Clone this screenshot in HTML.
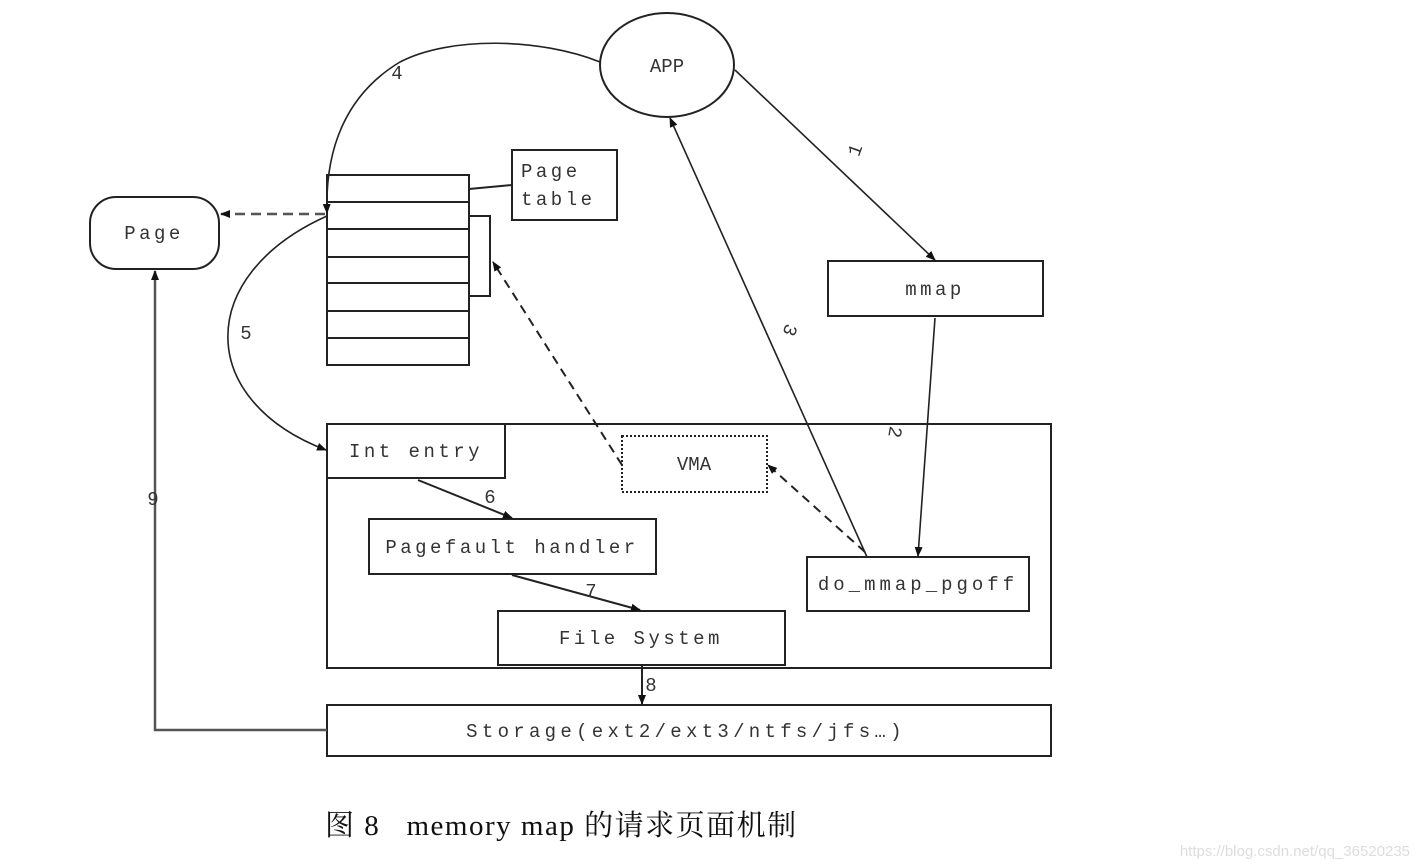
<!DOCTYPE html>
<html><head><meta charset="utf-8"><style>
html,body{margin:0;padding:0;background:#fff;}
svg{display:block;}
text{font-family:"Liberation Mono","Noto Serif CJK SC",monospace;fill:#333;font-size:19px;}
.l{letter-spacing:3.5px;}
</style></head><body>
<svg width="1418" height="868" viewBox="0 0 1418 868" xmlns="http://www.w3.org/2000/svg">
<defs>
<marker id="a" markerWidth="10" markerHeight="8" refX="9" refY="4" orient="auto" markerUnits="userSpaceOnUse">
<path d="M0,0 L10,4 L0,8 z" fill="#111"/></marker>
</defs>
<g stroke="#222" stroke-width="2" fill="none">
<ellipse cx="667" cy="65" rx="67" ry="52"/>
<rect x="90" y="197" width="129" height="72" rx="26"/>
<rect x="327" y="175" width="142" height="190"/>
<line x1="327" y1="202" x2="469" y2="202"/>
<line x1="327" y1="229" x2="469" y2="229"/>
<line x1="327" y1="257" x2="469" y2="257"/>
<line x1="327" y1="283" x2="469" y2="283"/>
<line x1="327" y1="311" x2="469" y2="311"/>
<line x1="327" y1="338" x2="469" y2="338"/>
<polyline points="469,216 490,216 490,296 469,296"/>
<rect x="512" y="150" width="105" height="70"/>
<line x1="469" y1="189" x2="512" y2="185"/>
<rect x="828" y="261" width="215" height="55"/>
<rect x="327" y="424" width="724" height="244"/>
<rect x="327" y="424" width="178" height="54"/>
<rect x="369" y="519" width="287" height="55"/>
<rect x="807" y="557" width="222" height="54"/>
<rect x="498" y="611" width="287" height="54"/>
<rect x="622" y="436" width="145" height="56" stroke-dasharray="2,2"/>
<rect x="327" y="705" width="724" height="51"/>
</g>
<g stroke="#222" stroke-width="1.6" fill="none">
<line x1="735" y1="70" x2="935" y2="260" marker-end="url(#a)"/>
<line x1="935" y1="318" x2="918" y2="556" marker-end="url(#a)"/>
<line x1="867" y1="557" x2="670" y2="118" marker-end="url(#a)"/>
<path d="M600,62 C540,38 450,36 400,62 C345,95 325,150 327,213" marker-end="url(#a)"/>
<path d="M327,216 C195,275 195,400 326,450" marker-end="url(#a)"/>
<line x1="418" y1="480" x2="512" y2="518" marker-end="url(#a)" stroke-width="2"/>
<line x1="512" y1="575" x2="640" y2="610" marker-end="url(#a)" stroke-width="2"/>
<line x1="642" y1="666" x2="642" y2="704" marker-end="url(#a)" stroke-width="2"/>
<polyline points="327,730 155,730 155,271" marker-end="url(#a)" stroke="#555" stroke-width="2.5"/>
<line x1="325" y1="214" x2="221" y2="214" marker-end="url(#a)" stroke-dasharray="10,6" stroke-width="2.5" stroke="#555"/>
<line x1="622" y1="465" x2="493" y2="262" marker-end="url(#a)" stroke-dasharray="9,6" stroke-width="2"/>
<line x1="865" y1="552" x2="768" y2="465" marker-end="url(#a)" stroke-dasharray="9,6" stroke-width="2"/>
</g>
<text x="667" y="72" text-anchor="middle">APP</text>
<text x="154" y="239" text-anchor="middle" class="l">Page</text>
<text x="521" y="177" class="l">Page</text>
<text x="521" y="205" class="l">table</text>
<text x="935" y="295" text-anchor="middle" class="l">mmap</text>
<text x="416" y="457" text-anchor="middle" class="l">Int entry</text>
<text x="694" y="470" text-anchor="middle">VMA</text>
<text x="512" y="553" text-anchor="middle" class="l">Pagefault handler</text>
<text x="918" y="590" text-anchor="middle" style="letter-spacing:4px">do_mmap_pgoff</text>
<text x="641" y="644" text-anchor="middle" class="l">File System</text>
<text x="686" y="737" text-anchor="middle" style="letter-spacing:4.3px">Storage(ext2/ext3/ntfs/jfs…)</text>
<text x="397" y="79" text-anchor="middle">4</text>
<text x="246" y="339" text-anchor="middle">5</text>
<text x="153" y="505" text-anchor="middle">9</text>
<text x="490" y="503" text-anchor="middle">6</text>
<text x="591" y="597" text-anchor="middle">7</text>
<text x="651" y="691" text-anchor="middle">8</text>
<text x="855" y="156" text-anchor="middle" transform="rotate(-70 855 150)">1</text>
<text x="895" y="438" text-anchor="middle" transform="rotate(100 895 432)">2</text>
<text x="790" y="336" text-anchor="middle" transform="rotate(110 790 330)">3</text>
<text x="325" y="835" style="font-family:'Liberation Serif','Noto Serif CJK SC',serif;font-size:29px;fill:#111;letter-spacing:1.5px">图 8 &#160; memory map 的请求页面机制</text>
<text x="1410" y="856" text-anchor="end" style="font-family:'Liberation Sans',sans-serif;font-size:15px;fill:#ddd">https://blog.csdn.net/qq_36520235</text>
</svg>
</body></html>
